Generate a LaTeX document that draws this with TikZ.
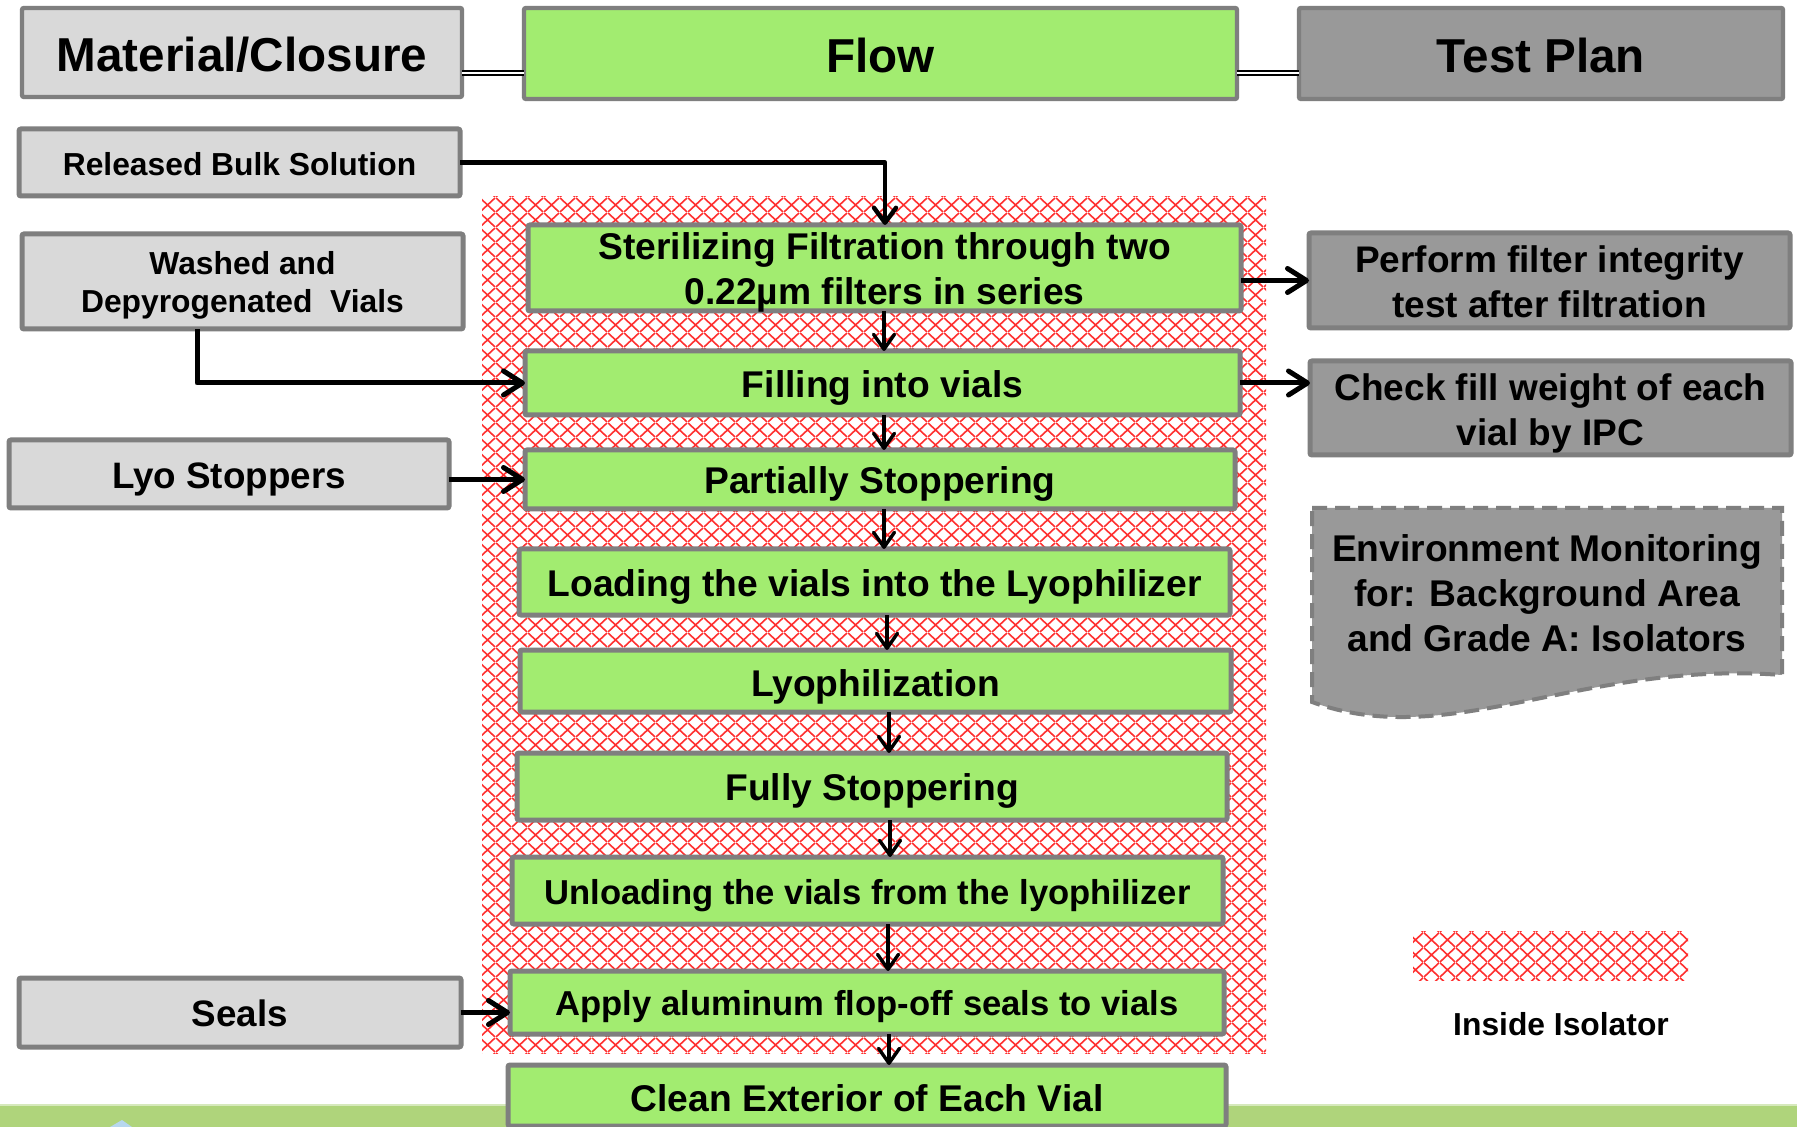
\documentclass[tikz,border=0pt]{standalone}
\usepackage{fontspec}
\setmainfont{Liberation Sans}
\usetikzlibrary{arrows.meta,patterns.meta}
\definecolor{lgray}{HTML}{D9D9D9}
\definecolor{bgray}{HTML}{7F7F7F}
\definecolor{mgray}{HTML}{999999}
\definecolor{fgreen}{HTML}{A2EC70}
\definecolor{isored}{HTML}{FF3030}
\definecolor{band}{HTML}{AFD47B}
\definecolor{bandlight}{HTML}{D6E9BC}
\definecolor{logoblue}{HTML}{B7D7EE}
\tikzdeclarepattern{
  name=isodiamond,
  type=uncolored,
  bounding box={(0pt,0pt) and (8pt,7.5pt)},
  tile size={(8pt,7.5pt)},
  code={\draw[line width=0.85pt] (0pt,0pt) -- (8pt,7.5pt) (0pt,7.5pt) -- (8pt,0pt);}
}
% \bx[text shift in pt]{name}{style}{x1}{y1}{x2}{y2}{text}
\newcommand\bx[8][0]{%
  \pgfmathsetmacro\bw{(#6-#4)*0.5}\pgfmathsetmacro\bh{(#7-#5)*0.5}%
  \node[#3, minimum width=\bw pt, minimum height=\bh pt] (#2) at ({(#4+#6)/2},{(#5+#7)/2}) {};
  \node[#3, draw=none, fill=none, yshift=-#1pt] (#2-t) at (#2.center) {#8};}
\begin{document}
\begin{tikzpicture}[x=0.5pt,y=-0.5pt,
  box/.style={draw=bgray, line width=2.5pt, inner sep=0pt, outer sep=0pt, align=center, rounded corners=1pt},
  hdr/.style={box, line width=2.2pt, font=\fontsize{23.8}{28}\selectfont\bfseries},
  mat/.style={box, fill=lgray},
  matsmall/.style={mat, font=\fontsize{15.9}{19}\selectfont\bfseries},
  matbig/.style={mat, font=\fontsize{18.4}{22}\selectfont\bfseries},
  flowbox/.style={box, fill=fgreen, font=\fontsize{18.6}{22.35}\selectfont\bfseries},
  flowsmall/.style={flowbox, font=\fontsize{17.3}{21}\selectfont\bfseries},
  testbox/.style={box, fill=mgray, font=\fontsize{18.5}{22.35}\selectfont\bfseries},
  conn/.style={line width=2.5pt, line join=round, -{Straight Barb[round,length=9.5pt,width=12pt]}},
  topconn/.style={line width=2.2pt, line join=round, -{Straight Barb[round,length=7.5pt,width=11pt]}},
  down/.style={line width=1.7pt, -{Straight Barb[round,length=7.5pt,width=10.5pt]}},
  twin/.style={double=white, double distance=1pt, line width=1pt}
]
% canvas
\fill[white] (0,0) rectangle (1797,1127);
\useasboundingbox (0,0) rectangle (1797,1127);
% isolator region
\fill[pattern=isodiamond, pattern color=isored] (482,197) rectangle (1266,1053);
% bottom band
\fill[band] (0,1105) rectangle (1797,1127);
\draw[bandlight, line width=0.8pt] (0,1105) -- (1797,1105);
\fill[logoblue] (110,1127) -- (122,1120) -- (132,1127) -- cycle;

% header
\bx[1]{mathdr}{hdr, fill=lgray}{22}{8}{462}{97}{Material/Closure}
\bx[1.2]{flowhdr}{hdr, fill=fgreen}{524}{8}{1237}{99}{Flow}
\bx[1.2]{testhdr}{hdr, fill=mgray}{1299}{8}{1783}{99}{Test Plan}
\coordinate (hy) at (0,73);
\draw[twin] (mathdr.east |- hy) -- (flowhdr.west |- hy);
\draw[twin] (flowhdr.east |- hy) -- (testhdr.west |- hy);

% materials
\bx[0.6]{rel}{matsmall}{19}{129}{460}{196}{Released Bulk Solution}
\bx[1.7]{washed}{matsmall}{22}{234}{463}{329}{Washed and\\Depyrogenated\ \ Vials}
\bx[2.8]{lyo}{matbig}{9}{440}{449}{508}{Lyo Stoppers}
\bx[0.6]{seals}{matbig}{19}{978}{461}{1047}{Seals}

% flow
\bx[2.2]{steril}{flowbox}{528}{225}{1241}{311}{Sterilizing Filtration through two\\0.22µm filters in series}
\bx[2.4]{fill}{flowbox}{525}{351}{1240}{415}{Filling into vials}
\bx[2.4]{part}{flowbox}{525}{450}{1235}{509}{Partially Stoppering}
\bx[2.4]{load}{flowbox}{519}{549}{1230}{615}{Loading the vials into the Lyophilizer}
\bx[2.8]{lyoph}{flowbox}{520}{650}{1231}{712}{Lyophilization}
\bx[2.4]{fully}{flowbox}{517}{753}{1227}{820}{Fully Stoppering}
\bx[2.4]{unload}{flowsmall}{512}{857}{1223}{924}{Unloading the vials from the lyophilizer}
\bx[2]{apply}{flowsmall}{510}{971}{1224}{1034}{Apply aluminum flop-off seals to vials}
\bx[1.2]{clean}{flowbox}{508}{1065}{1226}{1126}{Clean Exterior of Each Vial}

% test plan
\bx[0.6]{perform}{testbox}{1309}{233}{1790}{328}{Perform filter integrity\\test after filtration}
\bx[2.6]{check}{testbox}{1310}{361}{1791}{455}{Check fill weight of each\\vial by IPC}
\draw[draw=bgray, fill=mgray, line width=2pt, dash pattern=on 7.5pt off 4pt]
  (1312,508) -- (1782,508) -- (1782,675) .. controls (1580,660) and (1450,752) .. (1312,702) -- cycle;
\node[align=center, font=\fontsize{18.6}{22.6}\selectfont\bfseries, inner sep=0pt] (env) at (1547,593)
  {Environment Monitoring\\for: Background Area\\and Grade A: Isolators};

% legend
\fill[pattern=isodiamond, pattern color=isored] (1413,931) rectangle (1688,980);
\node[font=\fontsize{15.9}{19}\selectfont\bfseries, inner sep=0pt] (legend) at (1561,1024) {Inside Isolator};

% vertical flow arrows
\coordinate (vx1) at (885,0);
\coordinate (vx2) at (884,0);
\coordinate (vx3) at (884,0);
\coordinate (vx4) at (884,0);
\coordinate (vx5) at (887,0);
\coordinate (vx6) at (889,0);
\coordinate (vx7) at (890,0);
\coordinate (vx8) at (888,0);
\coordinate (vx9) at (889,0);
\draw[topconn] (rel.east) -| (steril.north -| vx1);
\draw[down] (steril.south -| vx2) -- (fill.north -| vx2);
\draw[down] (fill.south -| vx3) -- (part.north -| vx3);
\draw[down] (part.south -| vx4) -- (load.north -| vx4);
\draw[down] (load.south -| vx5) -- (lyoph.north -| vx5);
\draw[down] (lyoph.south -| vx6) -- (fully.north -| vx6);
\draw[down] (fully.south -| vx7) -- (unload.north -| vx7);
\draw[down] (unload.south -| vx8) -- (apply.north -| vx8);
\draw[down] (apply.south -| vx9) -- (clean.north -| vx9);

% side arrows
\coordinate (wx) at (197,0);
\draw[conn] (washed.south -| wx) |- (fill.west);
\draw[conn] (lyo.east |- part.west) -- (part.west);
\draw[conn] (seals.east) -- (seals.east -| apply.west);
\draw[conn] (steril.east |- perform.west) -- (perform.west);
\draw[conn] (fill.east) -- (fill.east -| check.west);
\end{tikzpicture}
\end{document}
